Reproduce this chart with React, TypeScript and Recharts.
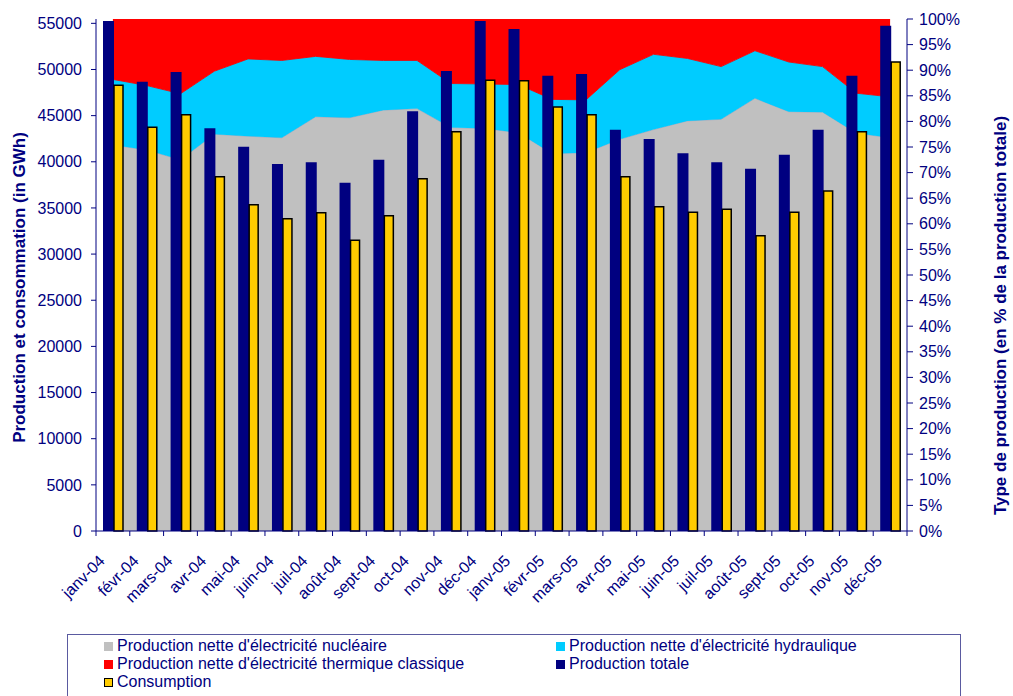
import { Area, Bar, ComposedChart, XAxis, YAxis } from "recharts"

const months = [
  "janv-04", "févr-04", "mars-04", "avr-04", "mai-04", "juin-04",
  "juil-04", "août-04", "sept-04", "oct-04", "nov-04", "déc-04",
  "janv-05", "févr-05", "mars-05", "avr-05", "mai-05", "juin-05",
  "juil-05", "août-05", "sept-05", "oct-05", "nov-05", "déc-05",
]

// part of each source in total production (%)
const nuclearPct = [
  75.4, 74.4, 72.5, 77.5, 77.1, 76.8, 80.9, 80.7, 82.2, 82.5, 78.8, 78.6,
  77.8, 73.7, 73.9, 76.5, 78.4, 80.1, 80.4, 84.5, 81.9, 81.8, 77.7, 76.8,
]
const hydroPct = [
  12.8, 12.6, 12.9, 12.3, 15.1, 15.1, 11.8, 11.4, 9.7, 9.4, 8.6, 8.7,
  9.4, 10.6, 10.3, 13.6, 14.7, 12.2, 10.3, 9.3, 9.7, 8.9, 7.8, 8.0,
]
const thermalPct = [
  11.8, 13.0, 14.6, 10.2, 7.8, 8.1, 7.3, 7.9, 8.1, 8.1, 12.6, 12.7,
  12.8, 15.7, 15.8, 9.9, 6.9, 7.7, 9.3, 6.2, 8.4, 9.3, 14.5, 15.2,
]

// GWh
const totalProduction = [
  55250, 48680, 49730, 43630, 41640, 39760, 39950, 37730, 40230, 45470, 49840, 55250,
  54390, 49330, 49510, 43480, 42470, 40920, 39950, 39250, 40770, 43480, 49330, 54740,
]
const consumption = [
  48290, 43740, 45100, 38390, 35350, 33840, 34490, 31500, 34160, 38170, 43260, 48830,
  48790, 45940, 45100, 38390, 35140, 34530, 34850, 32000, 34530, 36840, 43260, 50810,
]

const gwhTicks = [0, 5000, 10000, 15000, 20000, 25000, 30000, 35000, 40000, 45000, 50000, 55000]
const pctTicks = [0, 5, 10, 15, 20, 25, 30, 35, 40, 45, 50, 55, 60, 65, 70, 75, 80, 85, 90, 95, 100]

const NAVY = "#000080"
const GRAY = "#C0C0C0"
const CYAN = "#00CCFF"
const RED = "#FF0000"
const YELLOW = "#FFCC00"
const FONT = "'Liberation Sans', Arial, sans-serif"

const PLOT_LEFT = 96
const PLOT_RIGHT = 907
const PLOT_TOP = 19
const PLOT_BOTTOM = 531
const BAND = (PLOT_RIGHT - PLOT_LEFT) / months.length

const chartData = months.map((m, i) => ({
  month: m,
  nuclear: nuclearPct[i],
  hydro: hydroPct[i],
  thermal: thermalPct[i],
  total: totalProduction[i],
  consumption: consumption[i],
}))

const legendItems = [
  { label: "Production nette d'électricité nucléaire", color: GRAY },
  { label: "Production nette d'électricité hydraulique", color: CYAN },
  { label: "Production nette d'électricité thermique classique", color: RED },
  { label: "Production totale", color: NAVY },
  { label: "Consumption", color: YELLOW, outlined: true },
]

function MonthTick({ x, payload, index }: { x?: number; payload?: { value: string }; index?: number }) {
  if (x == null || !payload) return null
  const tx = x - 7
  const ty = 562
  return (
    <g>
      <line x1={x - BAND / 2} y1={PLOT_BOTTOM} x2={x - BAND / 2} y2={PLOT_BOTTOM + 5} stroke={NAVY} />
      {index === months.length - 1 && (
        <line x1={x + BAND / 2} y1={PLOT_BOTTOM} x2={x + BAND / 2} y2={PLOT_BOTTOM + 5} stroke={NAVY} />
      )}
      <text
        x={tx}
        y={ty}
        transform={`rotate(-45, ${tx}, ${ty})`}
        textAnchor="end"
        fill={NAVY}
        fontSize={16}
        fontFamily={FONT}
      >
        {payload.value}
      </text>
    </g>
  )
}

export default function App() {
  return (
    <div
      style={{
        position: "absolute",
        left: 0,
        top: 0,
        width: 1013,
        height: 696,
        overflow: "hidden",
        background: "#fff",
        fontFamily: FONT,
      }}
    >
      <ComposedChart
        width={1013}
        height={620}
        data={chartData}
        barGap={0}
        margin={{ top: PLOT_TOP, right: 0, bottom: 0, left: 0 }}
      >
        <XAxis
          dataKey="month"
          height={620 - PLOT_BOTTOM}
          interval={0}
          tickLine={false}
          axisLine={{ stroke: NAVY }}
          tick={<MonthTick />}
        />
        <YAxis
          yAxisId="left"
          orientation="left"
          width={PLOT_LEFT}
          domain={[0, 55470]}
          ticks={gwhTicks}
          interval={0}
          tickSize={5}
          tickMargin={9}
          axisLine={{ stroke: NAVY }}
          tickLine={{ stroke: NAVY }}
          tick={{ fill: NAVY, fontSize: 16, fontFamily: FONT }}
          label={() => (
            <text
              transform="translate(24.5, 287.5) rotate(-90)"
              textAnchor="middle"
              fill={NAVY}
              fontSize={17}
              fontWeight="bold"
              fontFamily={FONT}
            >
              Production et consommation (in GWh)
            </text>
          )}
        />
        <YAxis
          yAxisId="right"
          orientation="right"
          width={1013 - PLOT_RIGHT}
          domain={[0, 100]}
          ticks={pctTicks}
          interval={0}
          tickFormatter={(v: number) => `${v}%`}
          tickSize={6}
          tickMargin={6}
          axisLine={{ stroke: NAVY }}
          tickLine={{ stroke: NAVY }}
          tick={{ fill: NAVY, fontSize: 16, fontFamily: FONT }}
          label={() => (
            <text
              transform="translate(1005.5, 315.5) rotate(-90)"
              textAnchor="middle"
              fill={NAVY}
              fontSize={17}
              fontWeight="bold"
              fontFamily={FONT}
            >
              Type de production (en % de la production totale)
            </text>
          )}
        />
        <Area
          yAxisId="right"
          type="linear"
          dataKey="nuclear"
          stackId="prod"
          fill={GRAY}
          fillOpacity={1}
          stroke="#a4acc0"
          strokeWidth={1}
          isAnimationActive={false}
        />
        <Area
          yAxisId="right"
          type="linear"
          dataKey="hydro"
          stackId="prod"
          fill={CYAN}
          fillOpacity={1}
          stroke="#a83040"
          strokeWidth={1}
          isAnimationActive={false}
        />
        <Area
          yAxisId="right"
          type="linear"
          dataKey="thermal"
          stackId="prod"
          fill={RED}
          fillOpacity={1}
          stroke={RED}
          strokeWidth={0}
          isAnimationActive={false}
        />
        <Bar yAxisId="left" dataKey="total" fill={NAVY} barSize={11} isAnimationActive={false} />
        <Bar
          yAxisId="left"
          dataKey="consumption"
          fill={YELLOW}
          stroke="#000"
          strokeWidth={1.5}
          barSize={9}
          isAnimationActive={false}
        />
      </ComposedChart>

      <div
        style={{
          position: "absolute",
          left: 67,
          top: 634,
          width: 894,
          height: 80,
          boxSizing: "border-box",
          border: "1px solid #5a5aa0",
          padding: "2px 0 0 36px",
          display: "grid",
          gridTemplateColumns: "452px 1fr",
          gridAutoRows: "18px",
          color: NAVY,
          fontSize: 16,
          lineHeight: "18px",
        }}
      >
        {legendItems.map((item) => (
          <div key={item.label} style={{ display: "flex", alignItems: "center", whiteSpace: "nowrap" }}>
            <span
              style={{
                display: "inline-block",
                width: 9,
                height: 9,
                marginRight: 4,
                boxSizing: "border-box",
                background: item.color,
                border: item.outlined ? "1.5px solid #000" : "none",
              }}
            />
            {item.label}
          </div>
        ))}
      </div>
    </div>
  )
}
